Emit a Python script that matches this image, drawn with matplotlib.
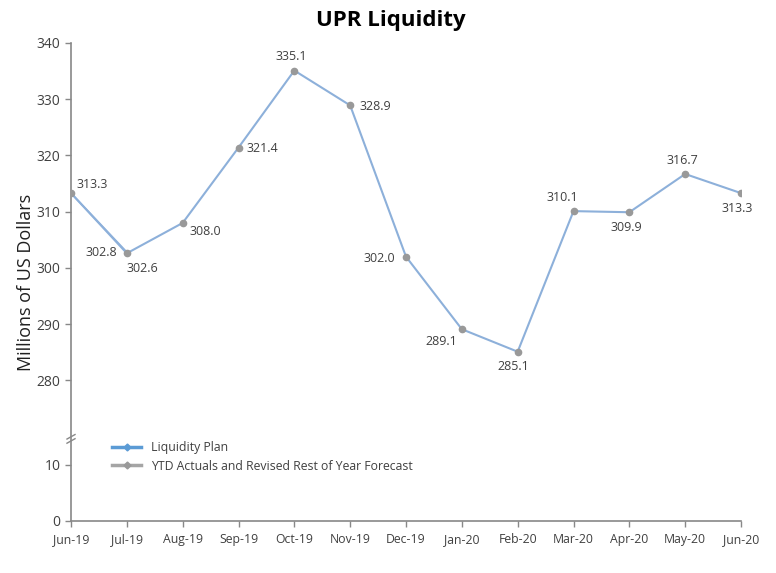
import numpy as np
import matplotlib
matplotlib.use('Agg')
import matplotlib.pyplot as plt
import matplotlib.transforms as mtransforms

plt.rcParams['font.family'] = ['Open Sans', 'DejaVu Sans']

months = ['Jun-19', 'Jul-19', 'Aug-19', 'Sep-19', 'Oct-19', 'Nov-19', 'Dec-19',
          'Jan-20', 'Feb-20', 'Mar-20', 'Apr-20', 'May-20', 'Jun-20']
ytd_values = [313.3, 302.6, 308.0, 321.4, 335.1, 328.9, 302.0,
              289.1, 285.1, 310.1, 309.9, 316.7, 313.3]
plan_months = ['Jun-19', 'Jul-19']
plan_values = [313.3, 302.8]
ytick_values = [0, 10, 280, 290, 300, 310, 320, 330, 340]

# label offsets (points) for the data labels
ytd_offsets = [(4, 6), (0, -11), (5, -6), (6, -1), (-2, 10), (7, -1), (-8, -1),
               (-3, -9), (-3, -11), (-8, 10), (-2, -11), (-2, 10), (-3, -11)]
ytd_align = ['left', 'left', 'left', 'left', 'center', 'left', 'right',
             'right', 'center', 'center', 'center', 'center', 'center']

BREAK_LO, BREAK_HI = 15, 270


def fwd(y):
    y = np.asarray(y, dtype=float)
    return np.where(y < BREAK_HI, np.minimum(y, BREAK_LO), y - (BREAK_HI - BREAK_LO))


def inv(y):
    y = np.asarray(y, dtype=float)
    return np.where(y <= BREAK_LO, y, y + (BREAK_HI - BREAK_LO))


fig = plt.figure(figsize=(7.76, 5.73), dpi=100)
ax = fig.add_axes([0.0915, 0.0908, 0.8634, 0.8342])
ax.set_yscale('function', functions=(fwd, inv))

x = np.arange(len(months))
xp = [months.index(m) for m in plan_months]
ax.plot(xp, plan_values, color='#8DB0DA', lw=1.3, zorder=2)
ax.plot(x, ytd_values, color='#8DB0DA', lw=1.5, marker='o', ms=4.5,
        mfc='#999999', mec='#999999', zorder=3)

for i, v in enumerate(ytd_values):
    ax.annotate('%.1f' % v, (x[i], v), xytext=ytd_offsets[i], textcoords='offset points',
                ha=ytd_align[i], va='center', fontsize=9, color='#404040')
ax.annotate('%.1f' % plan_values[1], (xp[1], plan_values[1]), xytext=(-7, 0),
            textcoords='offset points', ha='right', va='center', fontsize=9, color='#404040')

# legend handles
ax.plot([], [], color='#5B9BD5', lw=2.5, marker='D', ms=3.5, label='Liquidity Plan')
ax.plot([], [], color='#A5A5A5', lw=2.5, marker='D', ms=3.5, mfc='#999999', mec='#999999',
        label='YTD Actuals and Revised Rest of Year Forecast')
ax.legend(loc='upper left', bbox_to_anchor=(0.045, 0.19), frameon=False,
          fontsize=8.8, handlelength=2.4, labelspacing=0.45, labelcolor='#404040')

ax.set_xlim(0, len(months) - 1)
ax.set_ylim(0, 340)
ax.set_xticks(x)
ax.set_xticklabels(months)
ax.set_yticks(ytick_values)
ax.set_yticklabels([str(t) for t in ytick_values])
ax.minorticks_off()
ax.tick_params(axis='both', colors='#888888', labelcolor='#404040', labelsize=8.8,
               length=4, width=1)
ax.tick_params(axis='x', pad=5)
ax.tick_params(axis='y', labelsize=10)
for s in ['top', 'right']:
    ax.spines[s].set_visible(False)
for s in ['left', 'bottom']:
    ax.spines[s].set_color('#888888')
    ax.spines[s].set_linewidth(1.2)

# axis break marks
trans = mtransforms.blended_transform_factory(ax.transAxes, ax.transData)
for dy in (-1.0, 1.0):
    off = mtransforms.offset_copy(trans, fig=fig, x=0, y=dy * 1.5, units='points')
    ax.plot([-0.006, 0.006], [BREAK_LO - 0.8, BREAK_LO + 0.8], transform=off,
            color='#888888', lw=1, clip_on=False)

ax.set_ylabel('Millions of US Dollars', fontsize=13, color='#202020', labelpad=1)
fig.text(0.503, 0.965, 'UPR Liquidity', ha='center', va='center', fontsize=16,
         fontweight='bold', color='#000000')

plt.savefig('out.png', dpi=100)
plt.close()
